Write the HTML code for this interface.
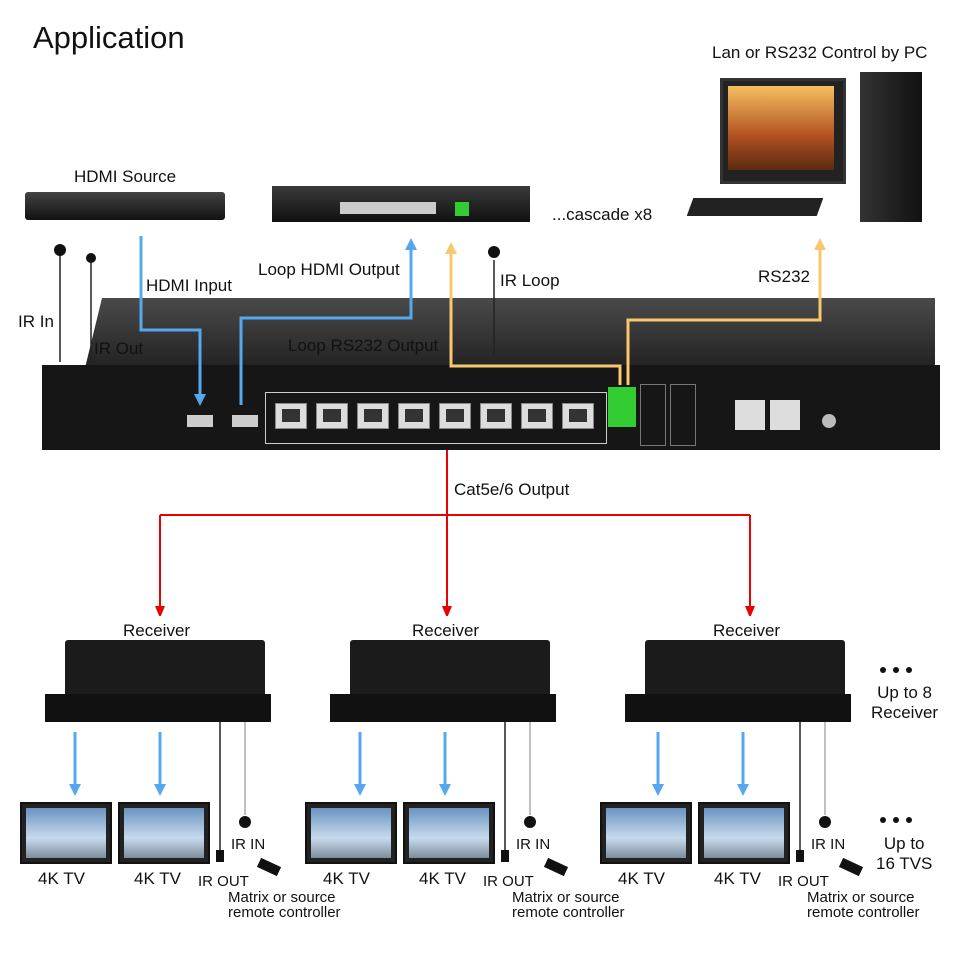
<!DOCTYPE html>
<html><head><meta charset="utf-8"><style>
body{margin:0;width:960px;height:960px;background:#fff;position:relative;overflow:hidden;font-family:"Liberation Sans",Arial,sans-serif;color:#111}
.a{position:absolute}
.t{position:absolute;font-size:17px;white-space:nowrap}
.s{position:absolute;font-size:15px;line-height:15px;white-space:nowrap}
.port{position:absolute;width:30px;height:24px;background:#ddd;border:1px solid #888}
.port:after{content:"";position:absolute;left:6px;top:5px;width:18px;height:13px;background:#333}
.rcv{position:absolute;width:200px;height:58px;background:#1b1b1b;border-radius:3px}
.rcvf{position:absolute;width:226px;height:28px;background:#111}
.tv{position:absolute;width:88px;height:58px;background:#222;border:2px solid #111}
.tv:after{content:"";position:absolute;left:4px;top:4px;right:4px;bottom:4px;background:linear-gradient(#6a94c0,#c8dbee 60%,#7c8e9c)}
</style></head><body>
<div class="a" style="left:33px;top:20px;font-size:31px">Application</div>

<div class="t" style="left:74px;top:167px">HDMI Source</div>
<div class="a" style="left:25px;top:192px;width:200px;height:28px;background:linear-gradient(#444,#111);border-radius:3px"></div>
<div class="a" style="left:272px;top:186px;width:258px;height:36px;background:linear-gradient(#3a3a3a,#111)"></div>
<div class="a" style="left:340px;top:202px;width:96px;height:12px;background:#ccc"></div>
<div class="a" style="left:455px;top:202px;width:14px;height:14px;background:#3c3"></div>
<div class="t" style="left:552px;top:205px">...cascade x8</div>
<div class="t" style="left:712px;top:43px">Lan or RS232 Control by PC</div>
<div class="a" style="left:720px;top:78px;width:120px;height:100px;background:#222;border:3px solid #333"></div>
<div class="a" style="left:728px;top:86px;width:106px;height:84px;background:linear-gradient(#f6c060,#b05020 60%,#5a2a10)"></div>
<div class="a" style="left:860px;top:72px;width:62px;height:150px;background:linear-gradient(90deg,#333,#111)"></div>
<div class="a" style="left:690px;top:198px;width:130px;height:18px;background:#222;transform:skewX(-20deg)"></div>

<div class="a" style="left:85px;top:298px;width:850px;height:70px;background:linear-gradient(#4a4a4a,#222);clip-path:polygon(2% 0,100% 0,100% 100%,0 100%)"></div>
<div class="a" style="left:42px;top:365px;width:898px;height:85px;background:#161616"></div>
<div class="a" style="left:265px;top:392px;width:340px;height:50px;border:1px solid #ccc"></div>
<div class="port" style="left:275px;top:403px"></div><div class="port" style="left:316px;top:403px"></div>
<div class="port" style="left:357px;top:403px"></div><div class="port" style="left:398px;top:403px"></div>
<div class="port" style="left:439px;top:403px"></div><div class="port" style="left:480px;top:403px"></div>
<div class="port" style="left:521px;top:403px"></div><div class="port" style="left:562px;top:403px"></div>
<div class="a" style="left:187px;top:415px;width:26px;height:12px;background:#ccc"></div>
<div class="a" style="left:232px;top:415px;width:26px;height:12px;background:#ccc"></div>
<div class="a" style="left:608px;top:387px;width:28px;height:40px;background:#3c3"></div>
<div class="a" style="left:640px;top:384px;width:24px;height:60px;border:1px solid #777"></div>
<div class="a" style="left:670px;top:384px;width:24px;height:60px;border:1px solid #777"></div>
<div class="a" style="left:735px;top:400px;width:30px;height:30px;background:#ddd"></div>
<div class="a" style="left:770px;top:400px;width:30px;height:30px;background:#ddd"></div>
<div class="a" style="left:822px;top:414px;width:14px;height:14px;border-radius:50%;background:#bbb"></div>

<svg class="a" style="left:0;top:0" width="960" height="960">
<defs>
<marker id="b" markerUnits="userSpaceOnUse" markerWidth="12" markerHeight="12" refX="6" refY="6" orient="auto"><path d="M0,0L12,6L0,12z" fill="#55a8ee"/></marker>
<marker id="y" markerUnits="userSpaceOnUse" markerWidth="12" markerHeight="12" refX="6" refY="6" orient="auto"><path d="M0,0L12,6L0,12z" fill="#f8c870"/></marker>
<marker id="r" markerUnits="userSpaceOnUse" markerWidth="10" markerHeight="12" refX="6" refY="5" orient="auto"><path d="M0,0L12,5L0,10z" fill="#e00"/></marker>
</defs>
<g fill="none" stroke="#55a8ee" stroke-width="3">
<polyline points="141,236 141,330 200,330 200,400" marker-end="url(#b)"/>
<polyline points="241,405 241,318 411,318 411,244" marker-end="url(#b)"/>
<line x1="75" y1="732" x2="75" y2="790" marker-end="url(#b)"/><line x1="160" y1="732" x2="160" y2="790" marker-end="url(#b)"/>
<line x1="360" y1="732" x2="360" y2="790" marker-end="url(#b)"/><line x1="445" y1="732" x2="445" y2="790" marker-end="url(#b)"/>
<line x1="658" y1="732" x2="658" y2="790" marker-end="url(#b)"/><line x1="743" y1="732" x2="743" y2="790" marker-end="url(#b)"/>
</g>
<g fill="none" stroke="#f8c870" stroke-width="3">
<polyline points="620,385 620,366 451,366 451,248" marker-end="url(#y)"/>
<polyline points="628,385 628,320 820,320 820,244" marker-end="url(#y)"/>
</g>
<g fill="none" stroke="#e00" stroke-width="2">
<polyline points="447,450 447,515"/>
<polyline points="160,515 750,515"/>
<line x1="160" y1="515" x2="160" y2="612" marker-end="url(#r)"/>
<line x1="447" y1="515" x2="447" y2="612" marker-end="url(#r)"/>
<line x1="750" y1="515" x2="750" y2="612" marker-end="url(#r)"/>
</g>
<g stroke="#222" stroke-width="1.5">
<line x1="60" y1="255" x2="60" y2="362"/><line x1="91" y1="262" x2="91" y2="362"/><line x1="494" y1="260" x2="494" y2="355"/>
<line x1="220" y1="715" x2="220" y2="855"/><line x1="505" y1="715" x2="505" y2="855"/><line x1="800" y1="715" x2="800" y2="855"/>
</g>
<g stroke="#aaa" stroke-width="1.5">
<line x1="245" y1="715" x2="245" y2="815"/><line x1="530" y1="715" x2="530" y2="815"/><line x1="825" y1="715" x2="825" y2="815"/>
</g>
<g fill="#111"><circle cx="60" cy="250" r="6"/><circle cx="91" cy="258" r="5"/><circle cx="494" cy="252" r="6"/>
<circle cx="245" cy="822" r="6"/><circle cx="530" cy="822" r="6"/><circle cx="825" cy="822" r="6"/>
<rect x="216" y="850" width="8" height="12"/><rect x="501" y="850" width="8" height="12"/><rect x="796" y="850" width="8" height="12"/>
<rect x="258" y="862" width="22" height="10" transform="rotate(25 269 867)"/><rect x="545" y="862" width="22" height="10" transform="rotate(25 556 867)"/><rect x="840" y="862" width="22" height="10" transform="rotate(25 851 867)"/>
<circle cx="883" cy="670" r="3"/><circle cx="896" cy="670" r="3"/><circle cx="909" cy="670" r="3"/>
<circle cx="883" cy="820" r="3"/><circle cx="896" cy="820" r="3"/><circle cx="909" cy="820" r="3"/></g>
</svg>

<div class="t" style="left:146px;top:276px">HDMI Input</div>
<div class="t" style="left:258px;top:260px">Loop HDMI Output</div>
<div class="t" style="left:500px;top:271px">IR Loop</div>
<div class="t" style="left:758px;top:267px">RS232</div>
<div class="t" style="left:18px;top:312px">IR In</div>
<div class="t" style="left:94px;top:339px">IR Out</div>
<div class="t" style="left:288px;top:336px">Loop RS232 Output</div>
<div class="t" style="left:454px;top:480px">Cat5e/6 Output</div>

<div class="t" style="left:123px;top:621px">Receiver</div>
<div class="t" style="left:412px;top:621px">Receiver</div>
<div class="t" style="left:713px;top:621px">Receiver</div>
<div class="rcv" style="left:65px;top:640px"></div><div class="rcvf" style="left:45px;top:694px"></div>
<div class="rcv" style="left:350px;top:640px"></div><div class="rcvf" style="left:330px;top:694px"></div>
<div class="rcv" style="left:645px;top:640px"></div><div class="rcvf" style="left:625px;top:694px"></div>
<div class="t" style="left:871px;top:683px;text-align:center;line-height:20px">Up to 8<br>Receiver</div>
<div class="t" style="left:876px;top:834px;text-align:center;line-height:20px">Up to<br>16 TVS</div>

<div class="tv" style="left:20px;top:802px"></div><div class="tv" style="left:118px;top:802px"></div>
<div class="tv" style="left:305px;top:802px"></div><div class="tv" style="left:403px;top:802px"></div>
<div class="tv" style="left:600px;top:802px"></div><div class="tv" style="left:698px;top:802px"></div>
<div class="t" style="left:38px;top:869px">4K TV</div><div class="t" style="left:134px;top:869px">4K TV</div>
<div class="t" style="left:323px;top:869px">4K TV</div><div class="t" style="left:419px;top:869px">4K TV</div>
<div class="t" style="left:618px;top:869px">4K TV</div><div class="t" style="left:714px;top:869px">4K TV</div>
<div class="s" style="left:231px;top:837px">IR IN</div><div class="s" style="left:198px;top:874px">IR OUT</div>
<div class="s" style="left:516px;top:837px">IR IN</div><div class="s" style="left:483px;top:874px">IR OUT</div>
<div class="s" style="left:811px;top:837px">IR IN</div><div class="s" style="left:778px;top:874px">IR OUT</div>
<div class="s" style="left:228px;top:890px">Matrix or source<br>remote controller</div>
<div class="s" style="left:512px;top:890px">Matrix or source<br>remote controller</div>
<div class="s" style="left:807px;top:890px">Matrix or source<br>remote controller</div>
</body></html>
